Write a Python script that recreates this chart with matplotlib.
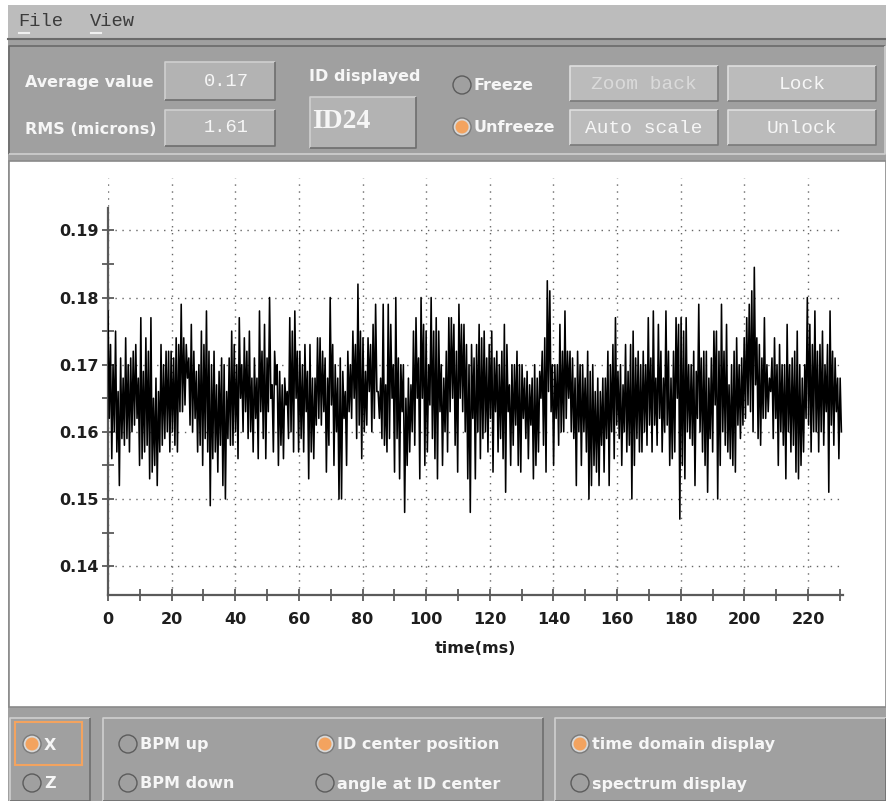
# Okno monitora pozycji wiązki: panel sterowania + przebieg czasowy ID24

import numpy as np
import matplotlib.pyplot as plt
from matplotlib.patches import Rectangle, Circle
from matplotlib.ticker import FixedLocator, FormatStrFormatter

# wierzchołki (tops) i doliny (bottoms) kolejnych oscylacji
tops = [
    0.178, 0.173, 0.170, 0.175, 0.166, 0.171, 0.168, 0.174, 0.170, 0.171, 0.172, 0.173,
    0.168, 0.177, 0.169, 0.174, 0.172, 0.177, 0.165, 0.168, 0.166, 0.173, 0.170, 0.172,
    0.172, 0.172, 0.171, 0.174, 0.173, 0.179, 0.174, 0.173, 0.171, 0.176, 0.172, 0.169,
    0.170, 0.175, 0.173, 0.178, 0.172, 0.170, 0.172, 0.167, 0.169, 0.171,
    0.170, 0.166, 0.171, 0.175, 0.173, 0.170, 0.177, 0.170, 0.174, 0.172, 0.175, 0.168,
    0.171, 0.168, 0.178, 0.172, 0.176, 0.171, 0.180, 0.167, 0.172, 0.170, 0.169, 0.167,
    0.168, 0.166, 0.177, 0.175, 0.178, 0.172, 0.172, 0.170, 0.173, 0.169, 0.173, 0.168,
    0.168, 0.174, 0.174, 0.172, 0.171, 0.168, 0.180, 0.173, 0.170, 0.168,
    0.171, 0.169, 0.166, 0.172, 0.170, 0.175, 0.173, 0.182, 0.175, 0.174, 0.169, 0.174,
    0.173, 0.176, 0.179, 0.166, 0.168, 0.179, 0.167, 0.179, 0.176, 0.170, 0.180, 0.171,
    0.170, 0.170, 0.165, 0.168, 0.167, 0.175, 0.177, 0.171, 0.180, 0.176, 0.175, 0.170,
    0.180, 0.175, 0.177, 0.175, 0.170, 0.168, 0.172, 0.177, 0.177, 0.176, 0.172, 0.179, 0.176,
    0.176, 0.173, 0.170, 0.173, 0.171, 0.173, 0.176, 0.174, 0.175, 0.171, 0.173, 0.175,
    0.171, 0.172, 0.170, 0.172, 0.176, 0.173, 0.167, 0.170, 0.170, 0.172, 0.170, 0.170,
    0.168, 0.169, 0.167, 0.168, 0.170, 0.168, 0.169, 0.172, 0.174, 0.1825, 0.181, 0.170,
    0.170, 0.170, 0.176, 0.172, 0.178, 0.172, 0.172, 0.171, 0.168, 0.172, 0.170, 0.170, 0.168,
    0.172, 0.169, 0.170, 0.166, 0.168, 0.166, 0.168, 0.168, 0.172, 0.170, 0.173, 0.177,
    0.169, 0.170, 0.167, 0.173, 0.169, 0.173, 0.175, 0.171, 0.172, 0.170, 0.172, 0.170,
    0.177, 0.171, 0.178, 0.168, 0.176, 0.172, 0.168, 0.178, 0.172, 0.168, 0.172, 0.177,
    0.176, 0.177, 0.175, 0.177, 0.170, 0.170, 0.172, 0.169, 0.179, 0.171, 0.172, 0.172,
    0.168, 0.171, 0.175,
    0.175, 0.172, 0.179, 0.172, 0.176, 0.167, 0.170, 0.172, 0.174, 0.170, 0.171, 0.174,
    0.177, 0.179, 0.181, 0.1845, 0.174, 0.173, 0.171, 0.177, 0.170, 0.168, 0.171, 0.174,
    0.170, 0.173, 0.170, 0.170, 0.176, 0.170, 0.171, 0.172, 0.175, 0.170, 0.168, 0.170,
    0.180, 0.176, 0.173, 0.178, 0.172, 0.173, 0.175, 0.170, 0.173, 0.178, 0.172, 0.171,
    0.168, 0.168,
]
bottoms = [
    0.162, 0.156, 0.160, 0.157, 0.152, 0.159, 0.158, 0.159, 0.157, 0.160, 0.161, 0.162,
    0.155, 0.156, 0.157, 0.158, 0.153, 0.154, 0.155, 0.152, 0.157, 0.158, 0.159, 0.160,
    0.157, 0.160, 0.158, 0.157, 0.163, 0.163, 0.164, 0.168, 0.161, 0.160, 0.162, 0.157,
    0.158, 0.155, 0.159, 0.157, 0.149, 0.156, 0.157, 0.154, 0.158, 0.152,
    0.150, 0.159, 0.158, 0.158, 0.160, 0.156, 0.165, 0.160, 0.163, 0.159, 0.160, 0.157,
    0.162, 0.156, 0.163, 0.159, 0.156, 0.163, 0.165, 0.157, 0.167, 0.155, 0.158, 0.156,
    0.164, 0.159, 0.160, 0.157, 0.165, 0.157, 0.159, 0.157, 0.163, 0.153, 0.157, 0.156,
    0.161, 0.162, 0.161, 0.163, 0.154, 0.158, 0.164, 0.155, 0.160, 0.150,
    0.150, 0.162, 0.155, 0.163, 0.162, 0.165, 0.159, 0.161, 0.156, 0.160, 0.161, 0.166,
    0.160, 0.162, 0.166, 0.162, 0.159, 0.158, 0.157, 0.159, 0.165, 0.154, 0.159, 0.153,
    0.163, 0.148, 0.155, 0.157, 0.160, 0.158, 0.165, 0.153, 0.165, 0.155, 0.157, 0.164,
    0.159, 0.156, 0.153, 0.163, 0.155, 0.160, 0.157, 0.163, 0.165, 0.158, 0.154, 0.165, 0.163,
    0.160, 0.153, 0.148, 0.162, 0.153, 0.160, 0.156, 0.159, 0.160, 0.157, 0.162, 0.154,
    0.163, 0.157, 0.159, 0.156, 0.151, 0.163, 0.155, 0.158, 0.161, 0.155, 0.154, 0.162,
    0.159, 0.156, 0.161, 0.153, 0.155, 0.157, 0.165, 0.158, 0.154, 0.166, 0.163, 0.155,
    0.162, 0.158, 0.160, 0.160, 0.162, 0.165, 0.160, 0.159, 0.152, 0.160, 0.155, 0.160, 0.157,
    0.150, 0.152, 0.155, 0.154, 0.152, 0.158, 0.154, 0.159, 0.152, 0.160, 0.156, 0.161,
    0.159, 0.155, 0.160, 0.157, 0.158, 0.150, 0.155, 0.159, 0.157, 0.157, 0.160, 0.158,
    0.161, 0.157, 0.161, 0.158, 0.162, 0.157, 0.160, 0.161, 0.155, 0.156, 0.157, 0.165,
    0.147, 0.155, 0.153, 0.160, 0.159, 0.158, 0.152, 0.162, 0.160, 0.157, 0.155, 0.151,
    0.159, 0.157, 0.164,
    0.150, 0.155, 0.160, 0.158, 0.157, 0.156, 0.155, 0.154, 0.161, 0.159, 0.161, 0.162,
    0.164, 0.163, 0.160, 0.167, 0.159, 0.158, 0.162, 0.162, 0.163, 0.166, 0.159, 0.162,
    0.155, 0.160, 0.158, 0.153, 0.160, 0.157, 0.158, 0.154, 0.153, 0.155, 0.157, 0.162,
    0.161, 0.157, 0.160, 0.160, 0.157, 0.160, 0.158, 0.163, 0.151, 0.161, 0.158, 0.163,
    0.156, 0.160,
]
czas_konca_ms = 230.5

x_ticks = [0, 20, 40, 60, 80, 100, 120, 140, 160, 180, 200, 220]
x_ticks_male = [10, 30, 50, 70, 90, 110, 130, 150, 170, 190, 210, 230]
y_ticks = [0.14, 0.15, 0.16, 0.17, 0.18, 0.19]
y_ticks_male = [0.135, 0.145, 0.155, 0.165, 0.175, 0.185]

srednia = '0.17'
rms = '1.61'
id_wyswietlane = 'ID24'

WASKA = ['Liberation Sans Narrow', 'DejaVu Sans']
MONO = ['Liberation Mono', 'DejaVu Sans Mono']

SZARY_OKNO = '#a0a0a0'
SZARY_MENU = '#bcbcbc'
SZARY_POLE = '#b3b3b3'
SZARY_PRZYCISK = '#bbbbbb'
POMARANCZ = '#f3a35f'
BIALY_TEKST = '#f6f6f6'


def prostokat(ax, x0, y0, x1, y1, kolor, jasna='#cfcfcf', ciemna='#6e6e6e', lw=1.2):
    ax.add_patch(Rectangle((x0, y0), x1 - x0, y1 - y0, facecolor=kolor, edgecolor='none'))
    # efekt 3D: jasny brzeg góra/lewo, ciemny dół/prawo
    ax.plot([x0, x0, x1], [y1, y0, y0], color=jasna, lw=lw, solid_capstyle='butt')
    ax.plot([x0, x1, x1], [y1, y1, y0], color=ciemna, lw=lw, solid_capstyle='butt')


def radio(ax, cx, cy, wlaczony, etykieta):
    if wlaczony:
        ax.add_patch(Circle((cx, cy), 9, facecolor='#d8d8d8', edgecolor='#7a7a7a', lw=1))
        ax.add_patch(Circle((cx, cy), 6.5, facecolor=POMARANCZ, edgecolor='none'))
    else:
        ax.add_patch(Circle((cx, cy), 9, facecolor=SZARY_OKNO, edgecolor='#5c5c5c', lw=1))
    ax.text(cx + 12, cy + 1, etykieta, color=BIALY_TEKST, fontsize=11.5, family=WASKA,
            fontweight='bold', ha='left', va='center')


def rysuj_okno():
    fig = plt.figure(figsize=(8.86, 8.01), dpi=100)
    fig.patch.set_facecolor('white')

    tlo = fig.add_axes([0, 0, 1, 1])
    tlo.set_xlim(0, 886)
    tlo.set_ylim(801, 0)
    tlo.axis('off')

    # ramka okna
    tlo.add_patch(Rectangle((8, 5), 878, 796, facecolor=SZARY_OKNO, edgecolor='none'))

    # pasek menu
    tlo.add_patch(Rectangle((8, 5), 878, 34, facecolor=SZARY_MENU, edgecolor='none'))
    tlo.plot([8, 886], [39, 39], color='#6a6a6a', lw=1.5)
    tlo.text(18, 21, 'File', family=MONO, fontsize=13.5, color='#3c3c3c', va='center')
    tlo.text(90, 21, 'View', family=MONO, fontsize=13.5, color='#3c3c3c', va='center')
    tlo.plot([19, 29], [33, 33], color='#f0f0f0', lw=1.5)
    tlo.plot([91, 101], [33, 33], color='#f0f0f0', lw=1.5)

    # górny panel
    prostokat(tlo, 9, 46, 885, 154, SZARY_OKNO, jasna='#6a6a6a', ciemna='#cfcfcf')
    tlo.text(25, 83, 'Average value', color=BIALY_TEKST, fontsize=11.5, family=WASKA,
             fontweight='bold', va='center')
    tlo.text(25, 129, 'RMS (microns)', color=BIALY_TEKST, fontsize=11.5, family=WASKA,
             fontweight='bold', va='center')
    prostokat(tlo, 165, 62, 275, 100, SZARY_POLE)
    prostokat(tlo, 165, 110, 275, 146, SZARY_POLE)
    tlo.text(249, 81, srednia, color=BIALY_TEKST, fontsize=13.5, family=MONO, ha='right', va='center')
    tlo.text(249, 128, rms, color=BIALY_TEKST, fontsize=13.5, family=MONO, ha='right', va='center')

    tlo.text(365, 77, 'ID displayed', color=BIALY_TEKST, fontsize=11.5, family=WASKA,
             fontweight='bold', ha='center', va='center')
    prostokat(tlo, 310, 97, 416, 148, SZARY_POLE)
    tlo.text(312, 122, id_wyswietlane, color=BIALY_TEKST, fontsize=20, family='Liberation Serif',
             fontweight='bold', ha='left', va='center')

    radio(tlo, 462, 85, False, 'Freeze')
    radio(tlo, 462, 127, True, 'Unfreeze')

    przyciski = [
        (570, 66, 718, 101, 'Zoom back', '#dadada'),
        (728, 66, 876, 101, 'Lock', BIALY_TEKST),
        (570, 110, 718, 145, 'Auto scale', BIALY_TEKST),
        (728, 110, 876, 145, 'Unlock', BIALY_TEKST),
    ]
    for x0, y0, x1, y1, napis, kolor in przyciski:
        prostokat(tlo, x0, y0, x1, y1, SZARY_PRZYCISK, jasna='#dedede', ciemna='#7a7a7a')
        tlo.text((x0 + x1) / 2, (y0 + y1) / 2 + 1, napis, color=kolor, fontsize=14,
                 family=MONO, ha='center', va='center')

    # białe pole wykresu
    tlo.add_patch(Rectangle((9, 161), 877, 546, facecolor='white', edgecolor='#8a8a8a', lw=1.2))

    # dolny panel
    prostokat(tlo, 10, 718, 90, 801, SZARY_OKNO, jasna='#cfcfcf', ciemna='#6e6e6e')
    tlo.add_patch(Rectangle((15, 722), 67, 43, facecolor='none', edgecolor=POMARANCZ, lw=1.5))
    radio(tlo, 32, 744, True, 'X')
    radio(tlo, 32, 783, False, 'Z')
    prostokat(tlo, 103, 718, 543, 801, SZARY_OKNO, jasna='#cfcfcf', ciemna='#6e6e6e')
    radio(tlo, 128, 744, False, 'BPM up')
    radio(tlo, 128, 783, False, 'BPM down')
    radio(tlo, 325, 744, True, 'ID center position')
    radio(tlo, 325, 783, False, 'angle at ID center')
    prostokat(tlo, 555, 718, 886, 801, SZARY_OKNO, jasna='#cfcfcf', ciemna='#6e6e6e')
    radio(tlo, 580, 744, True, 'time domain display')
    radio(tlo, 580, 783, False, 'spectrum display')

    # wykres przebiegu
    y_dol_px, y_gora_px = 595, 178
    ax = fig.add_axes([108 / 886, 1 - y_dol_px / 801, (843 - 108) / 886, (y_dol_px - y_gora_px) / 801])
    ax.set_facecolor('none')

    sygnal = np.column_stack([tops, bottoms]).ravel()
    t = np.linspace(0, czas_konca_ms, len(sygnal))
    ax.plot(t, sygnal, color='black', lw=1.15, zorder=3)

    ax.set_xlim(0, 231)
    ax.set_ylim(0.1357, 0.1978)
    for strona in ['top', 'right']:
        ax.spines[strona].set_visible(False)
    for strona in ['left', 'bottom']:
        ax.spines[strona].set_color('#5a5a5a')
        ax.spines[strona].set_linewidth(1.6)
    ax.spines['left'].set_bounds(0.1357, 0.1933)

    ax.set_xticks(x_ticks)
    ax.set_yticks(y_ticks)
    ax.xaxis.set_minor_locator(FixedLocator(x_ticks_male))
    ax.yaxis.set_minor_locator(FixedLocator(y_ticks_male))
    ax.yaxis.set_major_formatter(FormatStrFormatter('%.2f'))
    ax.tick_params(which='both', direction='inout', length=8, width=1.3, color='#5a5a5a')
    ax.tick_params(axis='x', pad=8)
    ax.tick_params(axis='y', pad=3)
    for etykieta in ax.get_xticklabels() + ax.get_yticklabels():
        etykieta.set_family(WASKA)
        etykieta.set_fontweight('bold')
        etykieta.set_fontsize(11.5)
        etykieta.set_color('#1e1e1e')

    ax.grid(True, which='major', linestyle=(0, (1, 4)), color='#666666', lw=1.0)
    ax.set_xlabel('time(ms)', family=WASKA, fontweight='bold', fontsize=11.5,
                  color='#1e1e1e', labelpad=10)

    fig.savefig('out.png', dpi=100)


if __name__ == '__main__':
    rysuj_okno()
